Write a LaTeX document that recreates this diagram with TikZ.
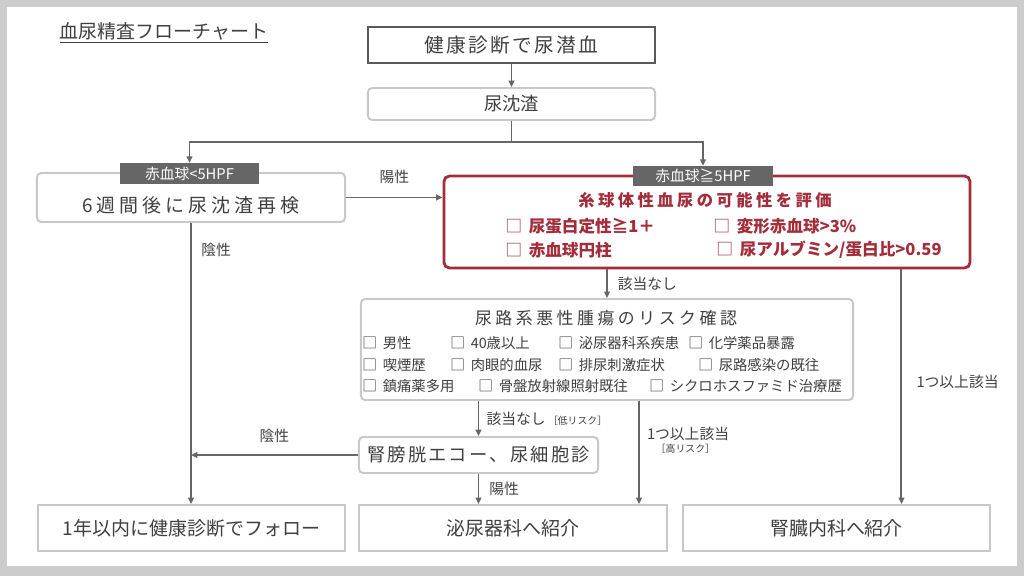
\documentclass[tikz,border=0pt]{standalone}
\usepackage{fontspec}
\usepackage{tikz}
\usepackage{xcolor}
\usetikzlibrary{arrows.meta}
\setmainfont{Noto Sans CJK JP}
\newfontfamily\widefont[LetterSpace=12]{Noto Sans CJK JP}
\newfontfamily\widerfont[LetterSpace=21]{Noto Sans CJK JP}
\newcommand{\chk}[2]{{\mdseries\fontsize{#1}{#1}\selectfont □}\hspace{#2}}

\begin{document}
\begin{tikzpicture}[x=0.025cm,y=-0.025cm,
  lightbox/.style={draw=lightline,line width=1.4pt,rounded corners=3pt,fill=white,text=ink,inner sep=0pt},
  flatbox/.style={draw=lightline,line width=1.4pt,fill=white,text=ink,inner sep=0pt,
    font=\fontsize{13.5}{15}\selectfont},
  tab/.style={fill=tabgray,text=white,inner sep=0pt,font=\fontsize{10.5}{12}\selectfont},
  redline/.style={text=redish,anchor=west,inner sep=0pt,font=\bfseries\fontsize{11.8}{13}\selectfont},
  riskitem/.style={text=ink,anchor=west,inner sep=0pt,font=\fontsize{10.2}{11}\selectfont},
  lbl/.style={text=ink,inner sep=0pt,font=\fontsize{10.5}{12}\selectfont},
  arr/.style={draw=arrowgray,line width=1.4pt,-{Triangle[length=4.5pt,width=4pt]}}]
\definecolor{ink}{HTML}{404040}
\definecolor{lightline}{HTML}{C8C8C8}
\definecolor{darkline}{HTML}{595959}
\definecolor{tabgray}{HTML}{666666}
\definecolor{arrowgray}{HTML}{666666}
\definecolor{redish}{HTML}{A32D3B}
\definecolor{framegray}{HTML}{CCCCCC}
% frame
\fill[framegray] (0,0) rectangle (1024,576);
\fill[white] (7,7) rectangle (1017,566);
\node[text=ink,inner sep=0pt,font=\fontsize{13.5}{15}\selectfont] (title) at (164,33) {\underline{血尿精査フローチャート}};
% top
\node[draw=darkline,line width=1.6pt,fill=white,text=ink,minimum width=7.175cm,minimum height=0.9cm,
  font=\widefont\fontsize{14}{16}\selectfont] (health) at (511.5,45) {健康診断で尿潜血};
\node[lightbox,minimum width=7.175cm,minimum height=0.8cm,font=\fontsize{13}{15}\selectfont] (sed) at (511.5,104) {尿沈渣};
\coordinate (split) at (511.5,142);
% second row
\node[lightbox,minimum width=7.7cm,minimum height=1.225cm,text height=2.2em,text depth=0.12em,
  font=\widerfont\fontsize{13.5}{15}\selectfont] (retest) at (191,197.5) {6週間後に尿沈渣再検};
\node[tab,minimum width=3.475cm,minimum height=0.525cm] (tabL) at (189.5,173.5) {赤血球<5HPF};
\node[draw=redish,line width=2pt,rounded corners=4pt,fill=white,minimum width=13.15cm,minimum height=2.3cm] (red) at (707,222) {};
\node[tab,minimum width=3.5cm,minimum height=0.5cm] (tabR) at (703,176) {赤血球≧5HPF};
\node[text=redish,inner sep=0pt,font=\widerfont\bfseries\fontsize{11.6}{13}\selectfont] (redtitle) at (705,200) {糸球体性血尿の可能性を評価};
\node[redline] (red1) at (505,226) {\chk{12}{0.4em}尿蛋白定性≧1＋};
\node[redline] (red2) at (713,226) {\chk{12}{0.4em}変形赤血球>3\%};
\node[redline] (red3) at (505,250) {\chk{12}{0.4em}赤血球円柱};
\node[redline] (red4) at (716,250) {\chk{12}{0.4em}尿アルブミン/蛋白比>0.59};
% risk
\node[lightbox,minimum width=12.3cm,minimum height=2.525cm] (risk) at (607,349.5) {};
\node[text=ink,inner sep=0pt,font=\widerfont\fontsize{12}{14}\selectfont] (risktitle) at (606,318) {尿路系悪性腫瘍のリスク確認};
\foreach \item/\px/\py [count=\i] in {男性/362/343,40歳以上/450/343,泌尿器科系疾患/558/343,化学薬品暴露/688/343,
  喫煙歴/362/365,肉眼的血尿/450/365,排尿刺激症状/558/365,尿路感染の既往/698/365,
  鎮痛薬多用/362/386,骨盤放射線照射既往/478/386,シクロホスファミド治療歴/649/386}
  {\node[riskitem] (risk\i) at (\px,\py) {\chk{10.5}{0.4em}\item};}
% lower
\node[lightbox,minimum width=5.975cm,minimum height=0.9cm,font=\widefont\fontsize{13}{15}\selectfont] (echo) at (478.5,455) {腎膀胱エコー、尿細胞診};
\node[flatbox,minimum width=7.675cm,minimum height=1.15cm] (follow) at (191.5,528) {1年以内に健康診断でフォロー};
\node[flatbox,minimum width=7.7cm,minimum height=1.15cm] (uro) at (513,528) {泌尿器科へ紹介};
\node[flatbox,minimum width=7.675cm,minimum height=1.15cm] (kidney) at (836.5,528) {腎臓内科へ紹介};
% connectors
\draw[arr] (health.south) -- (sed.north);
\draw[draw=arrowgray,line width=1.4pt] (sed.south) -- (split);
\draw[arr] (split) -| (tabL.north);
\draw[arr] (split) -| (tabR.north);
\draw[arr] (retest.east) -- (retest.east -| red.west) node[lbl,midway,above=9pt] (pos1) {陽性};
\draw[arr] (retest.south) -- (retest.south |- follow.north);
\node[lbl,anchor=west] (neg1) at (201,250) {陰性};
\draw[arr] (red.south -| risk.north) -- (risk.north) node[lbl,midway,right=7pt] (none1) {該当なし};
\draw[arr] ([xshift=-1.75cm]red.south east) -- ([xshift=-1.75cm]red.south east |- kidney.north)
  node[lbl,pos=0.48,right=10pt] (one1) {1つ以上該当};
\draw[arr] (risk.south -| echo.north) -- (echo.north) node[lbl,midway,right=5pt] (none2)
  {該当なし\,{\fontsize{7}{8}\selectfont［低リスク］}};
\draw[arr] ([xshift=-5.375cm]risk.south east) -- ([xshift=-5.375cm]risk.south east |- uro.north)
  node[lbl,pos=0.38,right=5pt,align=left] (one2) {1つ以上該当\\[-3pt]\hspace*{0.6em}{\fontsize{7}{8}\selectfont［高リスク］}};
\draw[arr] (echo.west) -- (echo.west -| retest.south) node[lbl,midway,above=8pt] (neg2) {陰性};
\draw[arr] (echo.south) -- (echo.south |- uro.north) node[lbl,midway,right=7pt] (pos2) {陽性};
\end{tikzpicture}
\end{document}
